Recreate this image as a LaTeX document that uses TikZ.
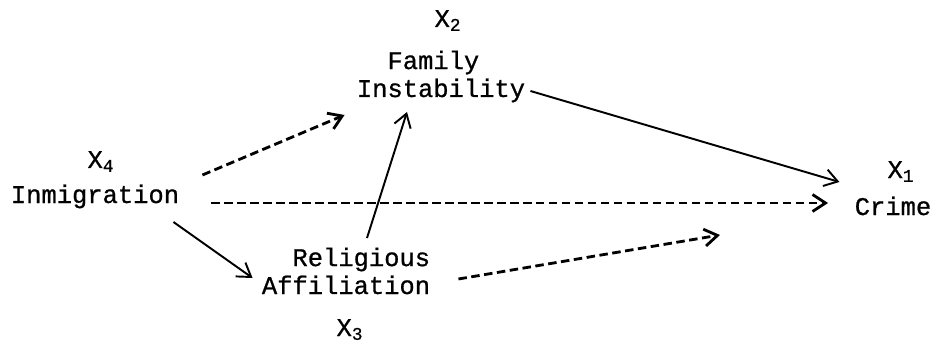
\documentclass[tikz,border=0pt]{standalone}
\usepackage{fontspec}
\usepackage{tikz}
\usetikzlibrary{arrows.meta}
\newfontfamily\typer[FakeBold=0.8]{Liberation Mono}
\tikzset{
  var/.style={font=\typer\fontsize{14.5}{15.9}\selectfont,inner sep=0pt,anchor=base},
  lbl/.style={var,align=center},
  path/.style={-{Straight Barb[length=2.6mm,width=3.4mm]},line width=1.1pt},
  spur/.style={path,line width=1.6pt,dash pattern=on 1.7mm off 0.9mm},
}

\begin{document}
\begin{tikzpicture}[x=0.02cm,y=-0.02cm]
  \useasboundingbox (0,0) rectangle (940,348);
  % variables (base = last line)
  \node[var] (x2) at (448,27){X\textsubscript{2}};
  \node[lbl] (fam) at (441,97){Family\hspace*{0.6em}\\Instability};
  \node[var] (x4) at (101,168){X\textsubscript{4}};
  \node[var] (inm) at (95,203){Inmigration};
  \node[var] (x1) at (901,178){X\textsubscript{1}};
  \node[var] (crime) at (893,215){Crime};
  \node[lbl,align=right] (rel) at (346,294){Religious\\Affiliation};
  \node[var] (x3) at (350,336){X\textsubscript{3}};
  \coordinate (reltip) at (720,235);
  % paths
  \draw[spur] ([shift={(23,-28)}]inm.base east) -- ([shift={(-12,18)}]fam.base west);
  \draw[spur] ([xshift=18]inm.base east) -- ([xshift=-15]inm.base east -| crime.base west);
  \draw[path] ([shift={(-6,19)}]inm.base east) -- ([shift={(-9,-16)}]rel.base west);
  \draw[path] ([shift={(21,-56)}]rel.base) -- ([shift={(-34,15)}]fam.base);
  \draw[path] ([shift={(5,-6)}]fam.base east) -- ([shift={(-15,-33)}]crime.base west);
  \draw[spur] ([shift={(28,-15)}]rel.base east) -- (reltip);
\end{tikzpicture}
\end{document}
